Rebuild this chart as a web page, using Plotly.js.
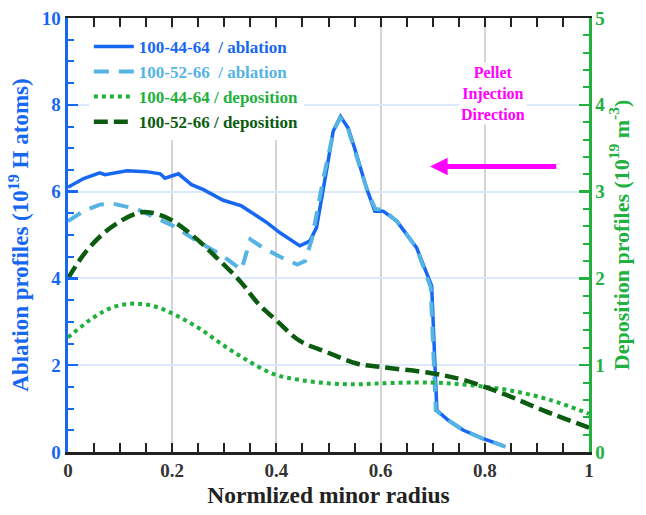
<!DOCTYPE html>
<html>
<head>
<meta charset="utf-8">
<script src="https://cdn.plot.ly/plotly-3.0.1.min.js"></script>
<style>html,body{margin:0;padding:0;background:#fff;}#chart{width:646px;height:515px;}</style>
</head>
<body>
<div id="chart"></div>
<script>
// Normalized minor radius / ablation (10^19 H atoms), 100-44-64
const abl1X = [0.0, 0.03, 0.061, 0.071, 0.113, 0.15, 0.177, 0.186, 0.212, 0.237, 0.259, 0.298, 0.333, 0.362, 0.38, 0.407, 0.445, 0.464, 0.477, 0.497, 0.509, 0.523, 0.538, 0.554, 0.573, 0.589, 0.605, 0.631, 0.669, 0.698, 0.708, 0.730, 0.759, 0.797, 0.836];
const abl1Y = [6.1, 6.3, 6.43, 6.39, 6.48, 6.46, 6.41, 6.31, 6.41, 6.16, 6.05, 5.80, 5.67, 5.44, 5.30, 5.05, 4.75, 4.86, 5.17, 6.54, 7.39, 7.73, 7.46, 6.85, 6.08, 5.55, 5.55, 5.32, 4.71, 3.83, 0.96, 0.73, 0.50, 0.31, 0.14];
// ablation, 100-52-66
const abl2X = [0.0, 0.03, 0.061, 0.087, 0.132, 0.17, 0.202, 0.253, 0.292, 0.333, 0.35, 0.375, 0.41, 0.44, 0.455, 0.468, 0.49, 0.51, 0.522, 0.536, 0.555, 0.575, 0.59, 0.605, 0.631, 0.669, 0.696, 0.706, 0.730, 0.759, 0.797, 0.84];
const abl2Y = [5.32, 5.55, 5.70, 5.72, 5.60, 5.40, 5.21, 4.82, 4.56, 4.20, 4.90, 4.70, 4.48, 4.32, 4.40, 4.90, 6.30, 7.40, 7.70, 7.50, 6.80, 6.00, 5.60, 5.58, 5.32, 4.70, 3.80, 0.96, 0.73, 0.50, 0.30, 0.12];
// deposition (10^19 m^-3), 100-44-64
const dep1X = [0.0, 0.049, 0.087, 0.129, 0.170, 0.209, 0.253, 0.298, 0.343, 0.394, 0.445, 0.503, 0.554, 0.599, 0.695, 0.772, 0.848, 0.925, 1.0];
const dep1Y = [1.32, 1.55, 1.67, 1.71, 1.67, 1.57, 1.42, 1.23, 1.06, 0.90, 0.83, 0.79, 0.78, 0.79, 0.80, 0.77, 0.71, 0.60, 0.44];
// deposition, 100-52-66
const dep2X = [0.0, 0.036, 0.081, 0.132, 0.157, 0.196, 0.240, 0.285, 0.330, 0.365, 0.401, 0.445, 0.497, 0.554, 0.599, 0.695, 0.759, 0.836, 0.912, 1.0];
const dep2Y = [2.0, 2.32, 2.58, 2.75, 2.76, 2.68, 2.49, 2.24, 1.97, 1.71, 1.51, 1.28, 1.15, 1.02, 0.98, 0.91, 0.83, 0.67, 0.48, 0.28];

const names = ['100-44-64  / ablation', '100-52-66  / ablation', '100-44-64 / deposition', '100-52-66 / deposition'];
const xTicks = [0, 0.2, 0.4, 0.6, 0.8, 1];
const xTickText = ['0', '0.2', '0.4', '0.6', '0.8', '1'];

const cBlue = '#1668f2', cLight = '#55b4e4', cGreen = '#1fb13c', cDark = '#0b5c10', cAxisGreen = '#22b040';
const serif = 'Liberation Serif';

const traces = [
  {x: abl1X, y: abl1Y, mode: 'lines', line: {color: cBlue, width: 3.5},
   name: '<span style="color:' + cBlue + '">' + names[0] + '</span>'},
  {x: abl2X, y: abl2Y, mode: 'lines', line: {color: cLight, width: 4, dash: '15px,10px'},
   name: '<span style="color:' + cLight + '">' + names[1] + '</span>'},
  {x: dep1X, y: dep1Y, yaxis: 'y2', mode: 'lines', line: {color: cGreen, width: 4, dash: 'dot', shape: 'spline'},
   name: '<span style="color:' + cGreen + '">' + names[2] + '</span>'},
  {x: dep2X, y: dep2Y, yaxis: 'y2', mode: 'lines', line: {color: cDark, width: 4.5, dash: '14px,6px', shape: 'spline'},
   name: '<span style="color:' + cDark + '">' + names[3] + '</span>'}
];

const layout = {
  width: 646, height: 515,
  margin: {l: 68, r: 57, t: 18, b: 63},
  paper_bgcolor: '#fff', plot_bgcolor: '#fff',
  showlegend: true,
  legend: {x: 0.04, y: 0.975, xanchor: 'left', yanchor: 'top', bgcolor: '#fff',
           font: {family: serif, size: 17, weight: 'bold'}, itemwidth: 40, tracegroupgap: 0},
  xaxis: {range: [0, 1], tickvals: xTicks, ticktext: xTickText, ticks: 'inside', ticklen: 9, tickwidth: 2, tickcolor: '#222',
          showline: true, linecolor: '#222', linewidth: 2.5, mirror: 'allticks',
          showgrid: true, gridcolor: '#d4d4d4', gridwidth: 2, zeroline: false,
          minor: {dtick: 0.05, ticks: 'inside', ticklen: 5, tickwidth: 2, tickcolor: '#222', showgrid: false},
          tickfont: {family: serif, size: 19, weight: 'bold', color: '#333'},
          title: {text: 'Normlized minor radius', font: {family: serif, size: 23.5, weight: 'bold', color: '#222'}, standoff: 7}},
  yaxis: {range: [0, 10], dtick: 2, ticks: 'inside', ticklen: 10, tickwidth: 2.5, tickcolor: cBlue,
          showline: true, linecolor: cBlue, linewidth: 3.5, zeroline: false,
          showgrid: true, gridcolor: '#dce8fb', gridwidth: 2,
          minor: {dtick: 0.5, ticks: 'inside', ticklen: 6, tickwidth: 2, tickcolor: cBlue, showgrid: false},
          tickfont: {family: serif, size: 19, weight: 'bold', color: cBlue},
          title: {text: 'Ablation profiles (10<sup>19</sup> H atoms)', font: {family: serif, size: 23, weight: 'bold', color: cBlue}, standoff: 7}},
  yaxis2: {range: [0, 5], dtick: 1, overlaying: 'y', side: 'right', ticks: 'inside', ticklen: 10, tickwidth: 2.5, tickcolor: cAxisGreen,
           showline: true, linecolor: cAxisGreen, linewidth: 2.5, zeroline: false, showgrid: false,
           minor: {dtick: 0.2, ticks: 'inside', ticklen: 6, tickwidth: 2, tickcolor: cAxisGreen, showgrid: false},
           tickfont: {family: serif, size: 19, weight: 'bold', color: cAxisGreen},
           title: {text: 'Deposition profiles (10<sup>19</sup> m<sup>-3</sup>)', font: {family: serif, size: 22, weight: 'bold', color: cAxisGreen}, standoff: 6}},
  annotations: [
    {xref: 'paper', yref: 'paper', x: 0.816, y: 0.826, xanchor: 'center', yanchor: 'middle',
     text: 'Pellet<br>Injection<br>Direction', showarrow: false,
     font: {family: serif, size: 16, weight: 'bold', color: '#ff00ff'}, align: 'center', bgcolor: '#fff'},
    {xref: 'x', yref: 'y', axref: 'x', ayref: 'y', x: 0.695, y: 6.58, ax: 0.94, ay: 6.58, text: '',
     showarrow: true, arrowhead: 2, arrowsize: 0.7, arrowwidth: 5, arrowcolor: '#ff00ff'}
  ]
};

Plotly.newPlot('chart', traces, layout, {displayModeBar: false, staticPlot: true});
</script>
</body>
</html>
